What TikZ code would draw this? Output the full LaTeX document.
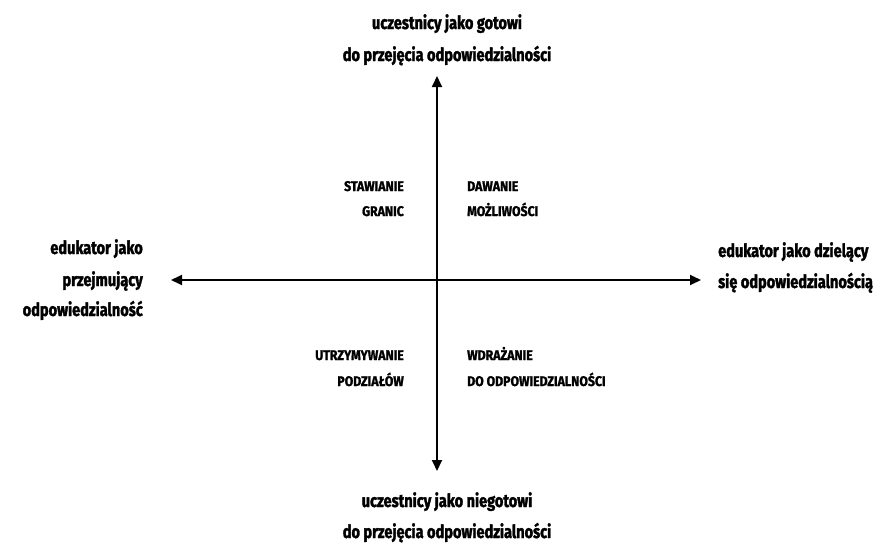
\documentclass[tikz,border=0pt]{standalone}
\usepackage{fontspec}
\setmainfont{Fira Sans}[FakeStretch=0.8, BoldFeatures={FakeBold=1.8}]
\newfontfamily\capsfont{Fira Sans}[FakeStretch=0.88, BoldFeatures={FakeBold=1.4}]
\usetikzlibrary{arrows.meta}
\begin{document}
\begin{tikzpicture}[x=1pt,y=-1pt,
  big/.style={font=\fontsize{18.2}{32}\selectfont\bfseries, inner sep=0pt, align=center},
  small/.style={font=\capsfont\fontsize{14}{25}\selectfont\bfseries, inner sep=0pt},
  axis/.style={line width=1.8pt, -{Triangle[length=11pt,width=10pt]}}]
\useasboundingbox (0,0) rectangle (893,544);
\coordinate (c) at (437,280);
\coordinate (top) at (437,76);
\coordinate (bot) at (437,471);
\coordinate (lft) at (171,280);
\coordinate (rgt) at (701,280);
\draw[axis] (c) -- (top);
\draw[axis] (c) -- (bot);
\draw[axis] (c) -- (lft);
\draw[axis] (c) -- (rgt);
\node[big, anchor=base] (t1) at (447,29) {uczestnicy jako gotowi};
\node[big, anchor=base] (t2) at (447,61) {do przejęcia odpowiedzialności};
\node[big, anchor=base] (b1) at (447,507) {uczestnicy jako niegotowi};
\node[big, anchor=base] (b2) at (447,538) {do przejęcia odpowiedzialności};
\node[big, anchor=base east] (l1) at (143,254) {edukator jako};
\node[big, anchor=base east] (l2) at (143,286) {przejmujący};
\node[big, anchor=base east] (l3) at (143,316) {odpowiedzialność};
\node[big, anchor=base west] (r1) at (718,257) {edukator jako dzielący};
\node[big, anchor=base west] (r2) at (718,288) {się odpowiedzialnością};
\node[small, anchor=base east] (q1a) at (404,191) {STAWIANIE};
\node[small, anchor=base east] (q1b) at (404,216) {GRANIC};
\node[small, anchor=base west] (q2a) at (467,191) {DAWANIE};
\node[small, anchor=base west] (q2b) at (467,216) {MOŻLIWOŚCI};
\node[small, anchor=base east] (q3a) at (404,360) {UTRZYMYWANIE};
\node[small, anchor=base east] (q3b) at (404,386) {PODZIAŁÓW};
\node[small, anchor=base west] (q4a) at (467,360) {WDRAŻANIE};
\node[small, anchor=base west] (q4b) at (467,386) {DO ODPOWIEDZIALNOŚCI};
\end{tikzpicture}
\end{document}
